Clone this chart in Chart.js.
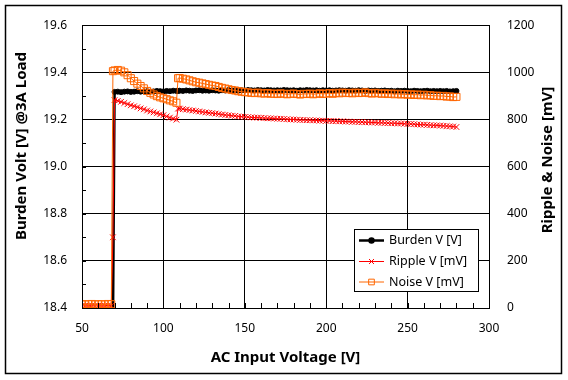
<!DOCTYPE html>
<html>
<head>
<meta charset="utf-8">
<script src="https://cdn.jsdelivr.net/npm/chart.js@4.4.0/dist/chart.umd.min.js"></script>
<style>
  html, body { margin: 0; padding: 0; background: #fff; }
  #wrap { width: 568px; height: 380px; position: relative; }
</style>
</head>
<body>
<div id="wrap"><canvas id="c" width="568" height="380"></canvas></div>
<script>
// ---- Data ----
const volts = [
  50,52,54,56,58,60,62,64,66,68,
  69,
  70,72,74,76,78,80,82,84,86,88,
  90,92,94,96,98,100,102,104,106,108,
  109,
  110,112,114,116,118,120,122,124,126,128,
  130,132,134,136,138,140,142,144,146,148,
  150,152,154,156,158,160,162,164,166,168,
  170,172,174,176,178,180,182,184,186,188,
  190,192,194,196,198,200,202,204,206,208,
  210,212,214,216,218,220,222,224,226,228,
  230,232,234,236,238,240,242,244,246,248,
  250,252,254,256,258,260,262,264,266,268,
  270,272,274,276,278,280
];
const burdenV = [
  18.3,18.3,18.3,18.3,18.3,18.3,18.3,18.3,18.3,18.3,
  18.3,
  19.317,19.318,19.316,19.318,19.319,19.317,19.318,19.320,19.318,19.319,
  19.320,19.318,19.319,19.321,19.320,19.319,19.321,19.320,19.322,19.321,
  19.321,
  19.322,19.321,19.323,19.322,19.321,19.323,19.324,19.322,19.323,19.322,
  19.324,19.323,19.322,19.324,19.323,19.325,19.323,19.324,19.322,19.324,
  19.323,19.325,19.324,19.323,19.325,19.324,19.323,19.325,19.324,19.323,
  19.324,19.323,19.325,19.324,19.323,19.324,19.322,19.324,19.323,19.325,
  19.324,19.323,19.324,19.322,19.324,19.323,19.324,19.322,19.323,19.324,
  19.323,19.322,19.324,19.323,19.322,19.324,19.323,19.321,19.323,19.322,
  19.323,19.321,19.322,19.323,19.321,19.322,19.320,19.322,19.321,19.322,
  19.321,19.320,19.322,19.321,19.320,19.321,19.322,19.320,19.321,19.320,
  19.321,19.320,19.321,19.319,19.320,19.321
];
const rippleMV = [
  8,10,9,11,8,10,9,10,11,9,
  300,
  882,879,875,870,865,860,856,852,847,843,
  838,834,830,826,822,818,813,808,804,799,
  846,
  846,844,842,840,838,836,834,832,830,828,
  827,825,823,821,819,818,816,815,813,812,
  811,810,809,808,808,807,806,805,805,804,
  803,803,802,801,800,800,799,798,798,797,
  797,796,796,795,795,794,794,793,793,792,
  792,791,791,790,790,789,789,788,788,787,
  787,786,786,785,785,784,784,783,783,782,
  781,781,780,779,778,778,777,776,775,775,
  774,773,772,771,770,768
];
const noiseMV = [
  16,15,16,17,15,16,16,15,17,16,
  1005,
  1008,1010,1007,1000,988,975,963,952,942,932,
  921,913,906,899,894,890,886,881,877,871,
  975,
  976,973,970,966,962,958,956,953,950,947,
  944,942,938,934,931,928,925,923,920,918,
  916,915,913,912,914,911,910,912,909,910,
  908,911,909,907,909,910,908,906,909,908,
  910,907,909,911,908,910,912,909,913,911,
  914,912,913,911,914,912,913,915,912,910,
  913,911,909,911,908,910,907,909,906,908,
  905,907,904,906,903,905,902,903,900,901,
  899,900,897,898,895,896
];
const seriesNames = ['Burden V [V]', 'Ripple V [mV]', 'Noise V [mV]'];
const xTicks = [50, 100, 150, 200, 250, 300];
const leftTicks = [18.4, 18.6, 18.8, 19.0, 19.2, 19.4, 19.6];
const rightTicks = [0, 200, 400, 600, 800, 1000, 1200];
const xTitle = 'AC Input Voltage [V]';
const leftTitle = 'Burden Volt [V] @3A Load';
const rightTitle = 'Ripple & Noise [mV]';

const FONT = "'Noto Sans', 'DejaVu Sans', sans-serif";
Chart.defaults.font.family = FONT;
Chart.defaults.color = '#000';

const toXY = (ys) => volts.map((v, i) => ({ x: v, y: ys[i] }));

const styles = [
  { color: '#000000', pointStyle: 'circle', radius: 2.5, lineWidth: 2.5, fill: '#000000' },
  { color: '#FF0000', pointStyle: 'crossRot', radius: 4, lineWidth: 1, fill: '#FF0000' },
  { color: '#FF6600', pointStyle: 'rect', radius: 5, lineWidth: 1, fill: 'rgba(0,0,0,0)' }
];

function vTitle(ctx, text, x, y) {
  ctx.save();
  ctx.translate(x, y);
  ctx.rotate(-Math.PI / 2);
  ctx.font = "bold 15px " + FONT;
  ctx.fillStyle = '#000';
  ctx.textAlign = 'center';
  ctx.textBaseline = 'middle';
  ctx.fillText(text, 0, 0);
  ctx.restore();
}

const framePlugin = {
  id: 'frame',
  beforeDraw(chart) {
    const ctx = chart.ctx;
    ctx.save();
    ctx.fillStyle = '#fff';
    ctx.fillRect(0, 0, chart.width, chart.height);
    ctx.restore();
  },
  afterDatasetsDraw(chart) {
    const { ctx, chartArea: a, scales } = chart;
    ctx.save();
    ctx.strokeStyle = '#000';
    ctx.lineWidth = 1;
    ctx.strokeRect(Math.round(a.left) + 0.5, Math.round(a.top) + 0.5,
                   Math.round(a.right - a.left), Math.round(a.bottom - a.top));
    ctx.beginPath();
    for (let v = 60; v < 300; v += 10) {
      const px = Math.round(scales.x.getPixelForValue(v)) + 0.5;
      ctx.moveTo(px, a.bottom);
      ctx.lineTo(px, a.bottom - 5);
    }
    for (let k = 1; k < 12; k++) {
      const v = 18.4 + k * 0.1;
      const py = Math.round(scales.y.getPixelForValue(v)) + 0.5;
      ctx.moveTo(a.left, py);
      ctx.lineTo(a.left + 4, py);
    }
    ctx.stroke();
    ctx.restore();
  },
  afterDraw(chart) {
    const ctx = chart.ctx;
    ctx.save();
    ctx.strokeStyle = '#000';
    ctx.lineWidth = 1.5;
    ctx.strokeRect(5.5, 5.5, 556, 368);
    ctx.restore();
    vTitle(ctx, leftTitle, 22, 146);
    vTitle(ctx, rightTitle, 548, 160);

    // legend
    ctx.save();
    const bx = 354.5, by = 229.5, bw = 124, bh = 62;
    ctx.fillStyle = '#fff';
    ctx.fillRect(bx, by, bw, bh);
    ctx.strokeStyle = '#000';
    ctx.lineWidth = 1;
    ctx.strokeRect(bx, by, bw, bh);
    const rows = [240.5, 261.5, 282];
    seriesNames.forEach((name, i) => {
      const s = styles[i];
      const y = rows[i];
      ctx.strokeStyle = s.color;
      ctx.lineWidth = s.lineWidth;
      ctx.beginPath();
      ctx.moveTo(359, y);
      ctx.lineTo(384, y);
      ctx.stroke();
      ctx.fillStyle = s.fill;
      Chart.helpers.drawPoint(ctx, {
        pointStyle: s.pointStyle, radius: i === 2 ? 4 : s.radius - 0.5, rotation: 0,
        borderWidth: 1
      }, 371.5, y);
      ctx.fillStyle = '#000';
      ctx.font = "12.5px " + FONT;
      ctx.textAlign = 'left';
      ctx.textBaseline = 'middle';
      ctx.fillText(name, 389, y);
    });
    ctx.restore();
  }
};

new Chart(document.getElementById('c'), {
  type: 'line',
  data: {
    datasets: seriesNames.map((name, i) => ({
      label: name,
      data: toXY([burdenV, rippleMV, noiseMV][i]),
      yAxisID: i === 0 ? 'y' : 'y1',
      borderColor: styles[i].color,
      backgroundColor: styles[i].fill,
      borderWidth: styles[i].lineWidth,
      pointStyle: styles[i].pointStyle,
      pointRadius: styles[i].radius,
      pointBorderWidth: 1,
      pointBorderColor: styles[i].color,
      pointBackgroundColor: styles[i].fill,
      tension: 0,
      order: 3 - i
    }))
  },
  options: {
    responsive: false,
    animation: false,
    events: [],
    layout: { padding: { top: 18, left: 0, right: 0, bottom: 0 } },
    plugins: { legend: { display: false }, tooltip: { enabled: false } },
    scales: {
      x: {
        type: 'linear', min: 50, max: 300,
        afterBuildTicks(s) { s.ticks = xTicks.map(v => ({ value: v })); },
        afterFit(s) { s.height = 72; },
        ticks: { font: { size: 12 }, padding: 13, color: '#000', callback: v => String(v) },
        grid: { color: '#000', lineWidth: 1, drawTicks: false },
        border: { display: false },
        title: { display: true, text: xTitle, font: { size: 15, weight: 'bold' }, padding: { top: 0, bottom: 13 }, color: '#000' }
      },
      y: {
        type: 'linear', position: 'left', min: 18.4, max: 19.6,
        afterBuildTicks(s) { s.ticks = leftTicks.map(v => ({ value: v })); },
        afterFit(s) { s.width = 82; },
        ticks: { font: { size: 12 }, padding: 15, color: '#000', callback: v => Number(v).toFixed(1) },
        grid: { color: '#000', lineWidth: 1, drawTicks: false },
        border: { display: false }
      },
      y1: {
        type: 'linear', position: 'right', min: 0, max: 1200,
        afterBuildTicks(s) { s.ticks = rightTicks.map(v => ({ value: v })); },
        afterFit(s) { s.width = 79; },
        ticks: { font: { size: 12 }, padding: 18, color: '#000', callback: v => String(v) },
        grid: { display: false, drawTicks: false },
        border: { display: false }
      }
    }
  },
  plugins: [framePlugin]
});
</script>
</body>
</html>
